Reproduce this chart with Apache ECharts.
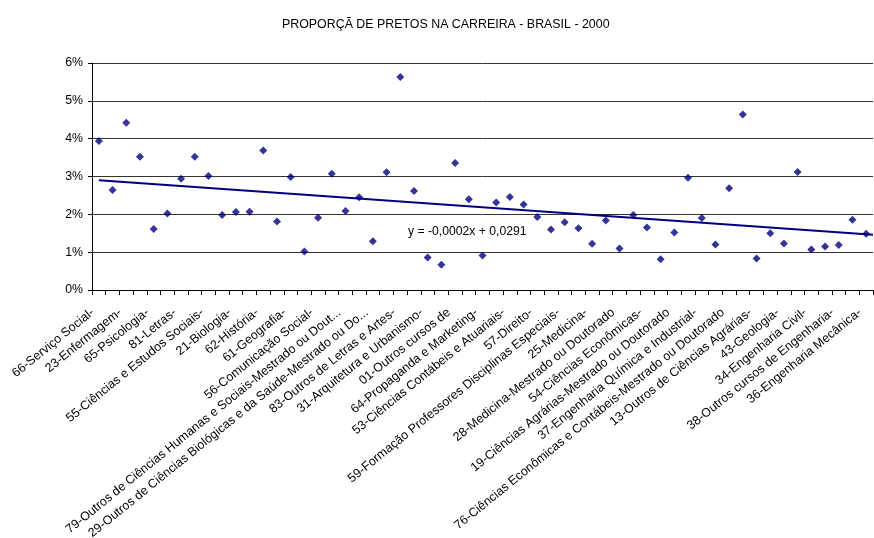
<!DOCTYPE html>
<html>
<head>
<meta charset="utf-8">
<script src="https://cdn.jsdelivr.net/npm/echarts@6/dist/echarts.min.js"></script>
<style>
  html, body { margin: 0; padding: 0; background: #fff; }
  #chart { width: 874px; height: 538px; }
</style>
</head>
<body>
<div id="chart"></div>
<script>
// rótulos visíveis (um a cada duas carreiras)
const shownLabels = [
  '66-Serviço Social-',
  '23-Enfermagem-',
  '65-Psicologia-',
  '81-Letras-',
  '55-Ciências e Estudos Sociais-',
  '21-Biologia-',
  '62-História-',
  '61-Geografia-',
  '56-Comunicação Social-',
  '79-Outros de Ciências Humanas e Sociais-Mestrado ou Dout...',
  '29-Outros de Ciências Biológicas e da Saúde-Mestrado ou Do...',
  '83-Outros de Letras e Artes-',
  '31-Arquitetura e Urbanismo-',
  '01-Outros cursos de',
  '64-Propaganda e Marketing-',
  '53-Ciências Contábeis e Atuariais-',
  '57-Direito-',
  '59-Formação Professores Disciplinas Especiais-',
  '25-Medicina-',
  '28-Medicina-Mestrado ou Doutorado',
  '54-Ciências Econômicas-',
  '19-Ciências Agrárias-Mestrado ou Doutorado',
  '37-Engenharia Química e Industrial-',
  '76-Ciências Econômicas e Contábeis-Mestrado ou Doutorado',
  '13-Outros de Ciências Agrárias-',
  '43-Geologia-',
  '34-Engenharia Civil-',
  '38-Outros cursos de Engenharia-',
  '36-Engenharia Mecânica-'
];

// proporção de pretos por carreira
const proportions = [
  0.0394, 0.0264, 0.0442, 0.0352, 0.0161, 0.0202, 0.0294, 0.0352, 0.0301, 0.0198,
  0.0206, 0.0207, 0.0369, 0.0181, 0.0299, 0.0102, 0.0191, 0.0307, 0.0209, 0.0245,
  0.0129, 0.0311, 0.0563, 0.0262, 0.0086, 0.0067, 0.0336, 0.0240, 0.0091, 0.0231,
  0.0246, 0.0226, 0.0193, 0.0160, 0.0179, 0.0163, 0.0122, 0.0184, 0.0110, 0.0198,
  0.0165, 0.0081, 0.0152, 0.0297, 0.0190, 0.0120, 0.0269, 0.0464, 0.0083, 0.0150,
  0.0123, 0.0312, 0.0107, 0.0115, 0.0119, 0.0186, 0.0149
];

const yMin = 0;
const yMax = 0.06;
const yStep = 0.01;
const trendText = 'y = -0,0002x + 0,0291';

// categorias: só as pares têm nome visível
const categories = proportions.map((v, i) => (i % 2 === 0 ? shownLabels[i / 2] : ''));

// linha de tendência linear (mínimos quadrados, x = 1..n)
const n = proportions.length;
const meanX = (n + 1) / 2;
const meanY = proportions.reduce((a, b) => a + b, 0) / n;
let sxy = 0;
let sxx = 0;
proportions.forEach((v, i) => {
  const dx = i + 1 - meanX;
  sxy += dx * (v - meanY);
  sxx += dx * dx;
});
const slope = sxy / sxx;
const intercept = meanY - slope * meanX;
const trendData = [1, n + 0.5].map((x) => [x, intercept + slope * x]);

const font = "'Liberation Sans', Arial, sans-serif";

const chart = echarts.init(document.getElementById('chart'));
const option = {
  backgroundColor: '#fff',
  animation: false,
  textStyle: { fontFamily: font },
  title: {
    text: 'PROPORÇÃ DE PRETOS NA CARREIRA - BRASIL - 2000',
    left: 277,
    top: 14,
    textStyle: { fontSize: 12.4, fontWeight: 'normal', color: '#000', fontFamily: font },
  },
  grid: {
    left: 92,
    right: 1,
    top: 63,
    bottom: 248,
    containLabel: false,
    outerBoundsMode: 'none',
  },
  xAxis: [
    {
      type: 'category',
      data: categories,
      boundaryGap: true,
      axisLine: { lineStyle: { color: '#000', width: 1 } },
      axisTick: { show: true, length: 5, interval: 0, lineStyle: { color: '#000' } },
      axisLabel: {
        interval: 0,
        rotate: 39,
        margin: 16,
        padding: [0, 8, 0, 0],
        fontSize: 12.5,
        color: '#000',
        fontFamily: font,
      },
      splitLine: { show: false },
    },
    {
      type: 'value',
      min: 0.5,
      max: n + 0.5,
      show: false,
      splitLine: { show: false },
    },
  ],
  yAxis: {
    type: 'value',
    min: yMin,
    max: yMax,
    interval: yStep,
    axisLine: { show: true, lineStyle: { color: '#000', width: 1 } },
    axisTick: { show: true, length: 4, lineStyle: { color: '#000' } },
    axisLabel: {
      margin: 9,
      fontSize: 12.3,
      color: '#000',
      fontFamily: font,
      formatter: (v) => Math.round(v * 100) + '%',
    },
    splitLine: { show: true, lineStyle: { color: '#333', width: 1 } },
  },
  graphic: [
    {
      type: 'text',
      left: 408,
      top: 226,
      style: { text: trendText, fill: '#000', font: '12.2px ' + font },
    },
  ],
  series: [
    {
      name: 'Proporção',
      type: 'scatter',
      xAxisIndex: 0,
      symbol: 'diamond',
      symbolSize: 8,
      itemStyle: { color: '#000080' },
      data: proportions.map((v, i) => [i, v]),
      z: 3,
    },
    {
      name: 'Tendência',
      type: 'line',
      xAxisIndex: 1,
      data: trendData,
      symbol: 'none',
      lineStyle: { color: '#000080', width: 2 },
      z: 2,
    },
  ],
};
chart.setOption(option);
</script>
</body>
</html>
